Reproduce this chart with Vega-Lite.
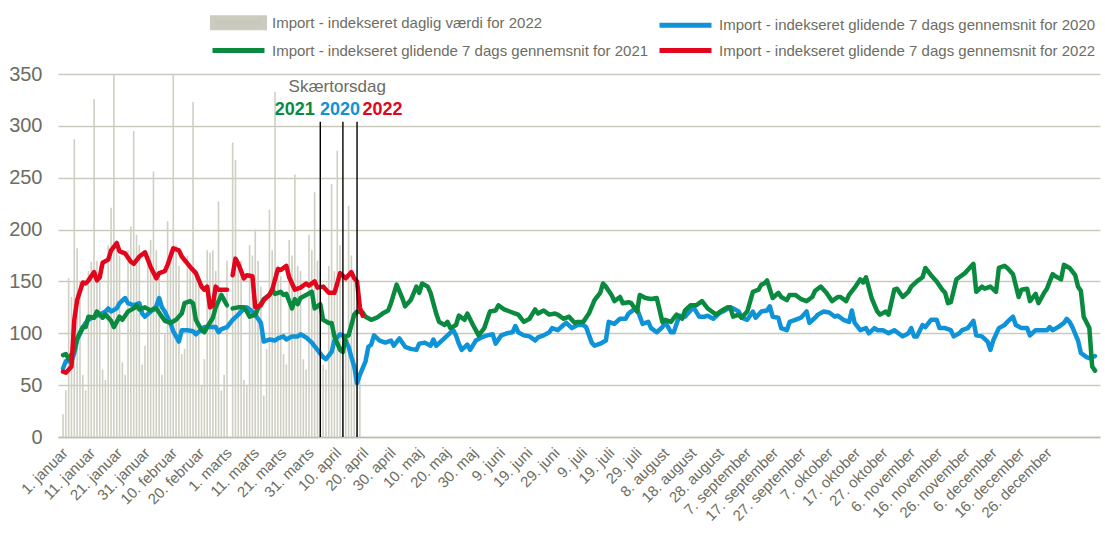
{
  "$schema": "https://vega.github.io/schema/vega-lite/v6.json",
  "width": 1042,
  "height": 363,
  "autosize": {"type": "none"},
  "padding": {"left": 58, "top": 74, "right": 5, "bottom": 108},
  "background": "white",
  "config": {
    "font": "Liberation Sans",
    "view": {"stroke": null},
    "axis": {"labelFont": "Liberation Sans", "labelColor": "#6d6d5f"},
    "legend": {"labelFont": "Liberation Sans"}
  },
  "datasets": {
    "bars": [
      {"d":1,"v":22},{"d":2,"v":45},{"d":3,"v":153},{"d":4,"v":135},{"d":5,"v":287},{"d":6,"v":182},{"d":7,"v":150},
      {"d":8,"v":60},{"d":9,"v":45},{"d":10,"v":160},{"d":11,"v":169},{"d":12,"v":326},{"d":13,"v":170},{"d":14,"v":165},
      {"d":15,"v":65},{"d":16,"v":55},{"d":17,"v":185},{"d":18,"v":221},{"d":19,"v":350},{"d":20,"v":190},{"d":21,"v":175},
      {"d":22,"v":72},{"d":23,"v":60},{"d":24,"v":180},{"d":25,"v":203},{"d":26,"v":295},{"d":27,"v":195},{"d":28,"v":185},
      {"d":29,"v":70},{"d":30,"v":88},{"d":31,"v":175},{"d":32,"v":190},{"d":33,"v":256},{"d":34,"v":180},{"d":35,"v":160},
      {"d":36,"v":60},{"d":37,"v":100},{"d":38,"v":208},{"d":39,"v":180},{"d":40,"v":350},{"d":41,"v":185},{"d":42,"v":165},
      {"d":43,"v":80},{"d":44,"v":85},{"d":45,"v":175},{"d":46,"v":165},{"d":47,"v":323},{"d":48,"v":160},{"d":49,"v":150},
      {"d":50,"v":50},{"d":51,"v":75},{"d":52,"v":180},{"d":53,"v":178},{"d":54,"v":180},{"d":55,"v":160},{"d":56,"v":227},
      {"d":57,"v":45},{"d":58,"v":60},{"d":59,"v":170},
      {"d":61,"v":284},{"d":62,"v":267},{"d":63,"v":165},{"d":64,"v":170},{"d":65,"v":55},{"d":66,"v":50},{"d":67,"v":185},
      {"d":68,"v":175},{"d":69,"v":200},{"d":70,"v":170},{"d":71,"v":145},{"d":72,"v":40},{"d":73,"v":85},{"d":74,"v":219},
      {"d":75,"v":180},{"d":76,"v":333},{"d":77,"v":165},{"d":78,"v":155},{"d":79,"v":80},{"d":80,"v":70},{"d":81,"v":190},
      {"d":82,"v":175},{"d":83,"v":253},{"d":84,"v":165},{"d":85,"v":160},{"d":86,"v":75},{"d":87,"v":65},{"d":88,"v":195},
      {"d":89,"v":180},{"d":90,"v":236},{"d":91,"v":170},{"d":92,"v":160},{"d":93,"v":70},{"d":94,"v":65},{"d":95,"v":165},
      {"d":96,"v":244},{"d":97,"v":160},{"d":98,"v":276},{"d":99,"v":185},{"d":100,"v":55},{"d":101,"v":85},{"d":102,"v":223},
      {"d":103,"v":175},{"d":104,"v":150},{"d":105,"v":60},{"d":106,"v":55}
    ],
    "lines": [
      {"s":"2020","g":1,"d":1,"v":66},{"s":"2020","g":1,"d":2,"v":73},{"s":"2020","g":1,"d":4,"v":73},{"s":"2020","g":1,"d":5,"v":81},{"s":"2020","g":1,"d":6,"v":94},{"s":"2020","g":1,"d":8,"v":105},{"s":"2020","g":1,"d":9,"v":110},{"s":"2020","g":1,"d":10,"v":113},{"s":"2020","g":1,"d":12,"v":116},{"s":"2020","g":1,"d":14,"v":118},{"s":"2020","g":1,"d":16,"v":121},{"s":"2020","g":1,"d":17,"v":124},{"s":"2020","g":1,"d":18,"v":121},{"s":"2020","g":1,"d":20,"v":124},{"s":"2020","g":1,"d":21,"v":129},{"s":"2020","g":1,"d":23,"v":134},{"s":"2020","g":1,"d":24,"v":129},{"s":"2020","g":1,"d":26,"v":127},{"s":"2020","g":1,"d":28,"v":129},{"s":"2020","g":1,"d":29,"v":119},{"s":"2020","g":1,"d":30,"v":116},{"s":"2020","g":1,"d":32,"v":121},{"s":"2020","g":1,"d":34,"v":126},{"s":"2020","g":1,"d":35,"v":134},{"s":"2020","g":1,"d":36,"v":125},{"s":"2020","g":1,"d":37,"v":121},{"s":"2020","g":1,"d":39,"v":110},{"s":"2020","g":1,"d":40,"v":102},{"s":"2020","g":1,"d":42,"v":92},{"s":"2020","g":1,"d":43,"v":103},{"s":"2020","g":1,"d":45,"v":103},{"s":"2020","g":1,"d":47,"v":102},{"s":"2020","g":1,"d":48,"v":99},{"s":"2020","g":1,"d":50,"v":104},{"s":"2020","g":1,"d":51,"v":106},{"s":"2020","g":1,"d":53,"v":106},{"s":"2020","g":1,"d":55,"v":106},{"s":"2020","g":1,"d":56,"v":101},{"s":"2020","g":1,"d":57,"v":104},{"s":"2020","g":1,"d":59,"v":106},{"s":"2020","g":1,"d":61,"v":113},{"s":"2020","g":1,"d":63,"v":118},{"s":"2020","g":1,"d":65,"v":124},{"s":"2020","g":1,"d":66,"v":125},{"s":"2020","g":1,"d":68,"v":121},{"s":"2020","g":1,"d":70,"v":114},{"s":"2020","g":1,"d":71,"v":110},{"s":"2020","g":1,"d":72,"v":92},{"s":"2020","g":1,"d":74,"v":94},{"s":"2020","g":1,"d":76,"v":93},{"s":"2020","g":1,"d":77,"v":95},{"s":"2020","g":1,"d":79,"v":97},{"s":"2020","g":1,"d":80,"v":94},{"s":"2020","g":1,"d":82,"v":97},{"s":"2020","g":1,"d":84,"v":97},{"s":"2020","g":1,"d":85,"v":99},{"s":"2020","g":1,"d":87,"v":96},{"s":"2020","g":1,"d":89,"v":91},{"s":"2020","g":1,"d":91,"v":84},{"s":"2020","g":1,"d":93,"v":77},{"s":"2020","g":1,"d":94,"v":75},{"s":"2020","g":1,"d":96,"v":82},{"s":"2020","g":1,"d":97,"v":93},{"s":"2020","g":1,"d":99,"v":99},{"s":"2020","g":1,"d":100,"v":98},{"s":"2020","g":1,"d":102,"v":87},{"s":"2020","g":1,"d":103,"v":77},{"s":"2020","g":1,"d":104,"v":68},{"s":"2020","g":1,"d":105,"v":52},{"s":"2020","g":1,"d":106,"v":60},{"s":"2020","g":1,"d":108,"v":73},{"s":"2020","g":1,"d":109,"v":87},{"s":"2020","g":1,"d":110,"v":89},{"s":"2020","g":1,"d":111,"v":98},{"s":"2020","g":1,"d":113,"v":93},{"s":"2020","g":1,"d":115,"v":91},{"s":"2020","g":1,"d":117,"v":93},{"s":"2020","g":1,"d":118,"v":88},{"s":"2020","g":1,"d":120,"v":95},{"s":"2020","g":1,"d":122,"v":87},{"s":"2020","g":1,"d":124,"v":85},{"s":"2020","g":1,"d":126,"v":84},{"s":"2020","g":1,"d":127,"v":90},{"s":"2020","g":1,"d":129,"v":91},{"s":"2020","g":1,"d":131,"v":88},{"s":"2020","g":1,"d":132,"v":94},{"s":"2020","g":1,"d":133,"v":88},{"s":"2020","g":1,"d":135,"v":93},{"s":"2020","g":1,"d":137,"v":98},{"s":"2020","g":1,"d":139,"v":103},{"s":"2020","g":1,"d":140,"v":98},{"s":"2020","g":1,"d":141,"v":90},{"s":"2020","g":1,"d":142,"v":84},{"s":"2020","g":1,"d":144,"v":89},{"s":"2020","g":1,"d":145,"v":84},{"s":"2020","g":1,"d":147,"v":93},{"s":"2020","g":1,"d":149,"v":96},{"s":"2020","g":1,"d":151,"v":98},{"s":"2020","g":1,"d":153,"v":99},{"s":"2020","g":1,"d":154,"v":90},{"s":"2020","g":1,"d":156,"v":98},{"s":"2020","g":1,"d":158,"v":100},{"s":"2020","g":1,"d":160,"v":101},{"s":"2020","g":1,"d":161,"v":107},{"s":"2020","g":1,"d":162,"v":101},{"s":"2020","g":1,"d":164,"v":98},{"s":"2020","g":1,"d":166,"v":97},{"s":"2020","g":1,"d":168,"v":93},{"s":"2020","g":1,"d":169,"v":96},{"s":"2020","g":1,"d":171,"v":98},{"s":"2020","g":1,"d":173,"v":101},{"s":"2020","g":1,"d":174,"v":105},{"s":"2020","g":1,"d":176,"v":103},{"s":"2020","g":1,"d":178,"v":108},{"s":"2020","g":1,"d":179,"v":110},{"s":"2020","g":1,"d":181,"v":105},{"s":"2020","g":1,"d":183,"v":108},{"s":"2020","g":1,"d":185,"v":108},{"s":"2020","g":1,"d":186,"v":106},{"s":"2020","g":1,"d":188,"v":91},{"s":"2020","g":1,"d":189,"v":88},{"s":"2020","g":1,"d":191,"v":90},{"s":"2020","g":1,"d":193,"v":93},{"s":"2020","g":1,"d":194,"v":111},{"s":"2020","g":1,"d":196,"v":109},{"s":"2020","g":1,"d":198,"v":114},{"s":"2020","g":1,"d":200,"v":114},{"s":"2020","g":1,"d":201,"v":119},{"s":"2020","g":1,"d":203,"v":123},{"s":"2020","g":1,"d":204,"v":124},{"s":"2020","g":1,"d":206,"v":109},{"s":"2020","g":1,"d":208,"v":111},{"s":"2020","g":1,"d":209,"v":105},{"s":"2020","g":1,"d":211,"v":101},{"s":"2020","g":1,"d":213,"v":106},{"s":"2020","g":1,"d":214,"v":111},{"s":"2020","g":1,"d":216,"v":101},{"s":"2020","g":1,"d":217,"v":101},{"s":"2020","g":1,"d":219,"v":117},{"s":"2020","g":1,"d":221,"v":116},{"s":"2020","g":1,"d":222,"v":119},{"s":"2020","g":1,"d":224,"v":125},{"s":"2020","g":1,"d":226,"v":116},{"s":"2020","g":1,"d":228,"v":116},{"s":"2020","g":1,"d":229,"v":117},{"s":"2020","g":1,"d":231,"v":114},{"s":"2020","g":1,"d":233,"v":119},{"s":"2020","g":1,"d":235,"v":122},{"s":"2020","g":1,"d":237,"v":125},{"s":"2020","g":1,"d":238,"v":124},{"s":"2020","g":1,"d":240,"v":121},{"s":"2020","g":1,"d":241,"v":115},{"s":"2020","g":1,"d":243,"v":113},{"s":"2020","g":1,"d":245,"v":121},{"s":"2020","g":1,"d":246,"v":115},{"s":"2020","g":1,"d":248,"v":121},{"s":"2020","g":1,"d":250,"v":122},{"s":"2020","g":1,"d":251,"v":126},{"s":"2020","g":1,"d":252,"v":116},{"s":"2020","g":1,"d":254,"v":115},{"s":"2020","g":1,"d":255,"v":105},{"s":"2020","g":1,"d":257,"v":103},{"s":"2020","g":1,"d":258,"v":111},{"s":"2020","g":1,"d":260,"v":113},{"s":"2020","g":1,"d":262,"v":115},{"s":"2020","g":1,"d":264,"v":121},{"s":"2020","g":1,"d":265,"v":110},{"s":"2020","g":1,"d":267,"v":115},{"s":"2020","g":1,"d":268,"v":118},{"s":"2020","g":1,"d":270,"v":121},{"s":"2020","g":1,"d":272,"v":120},{"s":"2020","g":1,"d":274,"v":116},{"s":"2020","g":1,"d":275,"v":117},{"s":"2020","g":1,"d":277,"v":113},{"s":"2020","g":1,"d":279,"v":111},{"s":"2020","g":1,"d":280,"v":122},{"s":"2020","g":1,"d":281,"v":110},{"s":"2020","g":1,"d":283,"v":103},{"s":"2020","g":1,"d":285,"v":105},{"s":"2020","g":1,"d":286,"v":100},{"s":"2020","g":1,"d":288,"v":105},{"s":"2020","g":1,"d":289,"v":103},{"s":"2020","g":1,"d":291,"v":103},{"s":"2020","g":1,"d":293,"v":100},{"s":"2020","g":1,"d":295,"v":103},{"s":"2020","g":1,"d":296,"v":101},{"s":"2020","g":1,"d":298,"v":97},{"s":"2020","g":1,"d":300,"v":100},{"s":"2020","g":1,"d":301,"v":105},{"s":"2020","g":1,"d":302,"v":97},{"s":"2020","g":1,"d":303,"v":97},{"s":"2020","g":1,"d":305,"v":108},{"s":"2020","g":1,"d":306,"v":106},{"s":"2020","g":1,"d":308,"v":113},{"s":"2020","g":1,"d":310,"v":113},{"s":"2020","g":1,"d":311,"v":105},{"s":"2020","g":1,"d":313,"v":105},{"s":"2020","g":1,"d":315,"v":103},{"s":"2020","g":1,"d":316,"v":97},{"s":"2020","g":1,"d":318,"v":100},{"s":"2020","g":1,"d":319,"v":103},{"s":"2020","g":1,"d":321,"v":105},{"s":"2020","g":1,"d":323,"v":112},{"s":"2020","g":1,"d":324,"v":98},{"s":"2020","g":1,"d":326,"v":97},{"s":"2020","g":1,"d":328,"v":92},{"s":"2020","g":1,"d":329,"v":84},{"s":"2020","g":1,"d":330,"v":93},{"s":"2020","g":1,"d":332,"v":105},{"s":"2020","g":1,"d":334,"v":108},{"s":"2020","g":1,"d":335,"v":111},{"s":"2020","g":1,"d":337,"v":116},{"s":"2020","g":1,"d":338,"v":108},{"s":"2020","g":1,"d":340,"v":105},{"s":"2020","g":1,"d":342,"v":105},{"s":"2020","g":1,"d":343,"v":98},{"s":"2020","g":1,"d":345,"v":103},{"s":"2020","g":1,"d":347,"v":103},{"s":"2020","g":1,"d":349,"v":103},{"s":"2020","g":1,"d":350,"v":106},{"s":"2020","g":1,"d":351,"v":103},{"s":"2020","g":1,"d":353,"v":106},{"s":"2020","g":1,"d":355,"v":110},{"s":"2020","g":1,"d":356,"v":114},{"s":"2020","g":1,"d":357,"v":111},{"s":"2020","g":1,"d":358,"v":106},{"s":"2020","g":1,"d":360,"v":93},{"s":"2020","g":1,"d":361,"v":81},{"s":"2020","g":1,"d":363,"v":77},{"s":"2020","g":1,"d":364,"v":76},{"s":"2020","g":1,"d":366,"v":78},
      {"s":"2021","g":1,"d":1,"v":79},{"s":"2021","g":1,"d":2,"v":80},{"s":"2021","g":1,"d":3,"v":75},{"s":"2021","g":1,"d":5,"v":84},{"s":"2021","g":1,"d":6,"v":95},{"s":"2021","g":1,"d":8,"v":106},{"s":"2021","g":1,"d":9,"v":106},{"s":"2021","g":1,"d":10,"v":116},{"s":"2021","g":1,"d":12,"v":115},{"s":"2021","g":1,"d":13,"v":121},{"s":"2021","g":1,"d":15,"v":115},{"s":"2021","g":1,"d":16,"v":118},{"s":"2021","g":1,"d":18,"v":112},{"s":"2021","g":1,"d":19,"v":106},{"s":"2021","g":1,"d":21,"v":116},{"s":"2021","g":1,"d":22,"v":113},{"s":"2021","g":1,"d":24,"v":121},{"s":"2021","g":1,"d":26,"v":124},{"s":"2021","g":1,"d":27,"v":127},{"s":"2021","g":1,"d":28,"v":123},{"s":"2021","g":1,"d":30,"v":125},{"s":"2021","g":1,"d":32,"v":122},{"s":"2021","g":1,"d":34,"v":124},{"s":"2021","g":1,"d":36,"v":116},{"s":"2021","g":1,"d":37,"v":112},{"s":"2021","g":1,"d":39,"v":110},{"s":"2021","g":1,"d":41,"v":113},{"s":"2021","g":1,"d":43,"v":119},{"s":"2021","g":1,"d":44,"v":129},{"s":"2021","g":1,"d":46,"v":131},{"s":"2021","g":1,"d":47,"v":129},{"s":"2021","g":1,"d":48,"v":113},{"s":"2021","g":1,"d":50,"v":103},{"s":"2021","g":1,"d":51,"v":101},{"s":"2021","g":1,"d":52,"v":106},{"s":"2021","g":1,"d":54,"v":115},{"s":"2021","g":1,"d":55,"v":125},{"s":"2021","g":1,"d":57,"v":137},{"s":"2021","g":1,"d":58,"v":132},{"s":"2021","g":1,"d":59,"v":127},
      {"s":"2021","g":2,"d":61,"v":124},{"s":"2021","g":2,"d":63,"v":125},{"s":"2021","g":2,"d":65,"v":125},{"s":"2021","g":2,"d":66,"v":121},{"s":"2021","g":2,"d":67,"v":116},{"s":"2021","g":2,"d":69,"v":118},{"s":"2021","g":2,"d":70,"v":124},{"s":"2021","g":2,"d":72,"v":133},{"s":"2021","g":2,"d":74,"v":137},{"s":"2021","g":2,"d":75,"v":142},{"s":"2021","g":2,"d":76,"v":138},{"s":"2021","g":2,"d":78,"v":140},{"s":"2021","g":2,"d":79,"v":137},{"s":"2021","g":2,"d":80,"v":138},{"s":"2021","g":2,"d":82,"v":124},{"s":"2021","g":2,"d":83,"v":133},{"s":"2021","g":2,"d":84,"v":128},{"s":"2021","g":2,"d":85,"v":134},{"s":"2021","g":2,"d":87,"v":137},{"s":"2021","g":2,"d":89,"v":140},{"s":"2021","g":2,"d":90,"v":124},{"s":"2021","g":2,"d":92,"v":128},{"s":"2021","g":2,"d":93,"v":113},{"s":"2021","g":2,"d":95,"v":110},{"s":"2021","g":2,"d":96,"v":110},{"s":"2021","g":2,"d":97,"v":97},{"s":"2021","g":2,"d":99,"v":84},{"s":"2021","g":2,"d":100,"v":82},{"s":"2021","g":2,"d":101,"v":97},{"s":"2021","g":2,"d":102,"v":98},{"s":"2021","g":2,"d":104,"v":118},{"s":"2021","g":2,"d":105,"v":121},{"s":"2021","g":2,"d":107,"v":120},{"s":"2021","g":2,"d":108,"v":116},{"s":"2021","g":2,"d":110,"v":113},{"s":"2021","g":2,"d":112,"v":115},{"s":"2021","g":2,"d":114,"v":119},{"s":"2021","g":2,"d":116,"v":122},{"s":"2021","g":2,"d":117,"v":129},{"s":"2021","g":2,"d":119,"v":147},{"s":"2021","g":2,"d":121,"v":134},{"s":"2021","g":2,"d":122,"v":126},{"s":"2021","g":2,"d":124,"v":132},{"s":"2021","g":2,"d":126,"v":145},{"s":"2021","g":2,"d":127,"v":139},{"s":"2021","g":2,"d":128,"v":148},{"s":"2021","g":2,"d":130,"v":145},{"s":"2021","g":2,"d":131,"v":139},{"s":"2021","g":2,"d":133,"v":119},{"s":"2021","g":2,"d":134,"v":111},{"s":"2021","g":2,"d":136,"v":108},{"s":"2021","g":2,"d":137,"v":111},{"s":"2021","g":2,"d":138,"v":105},{"s":"2021","g":2,"d":140,"v":108},{"s":"2021","g":2,"d":141,"v":117},{"s":"2021","g":2,"d":143,"v":113},{"s":"2021","g":2,"d":144,"v":119},{"s":"2021","g":2,"d":146,"v":108},{"s":"2021","g":2,"d":147,"v":103},{"s":"2021","g":2,"d":148,"v":98},{"s":"2021","g":2,"d":150,"v":105},{"s":"2021","g":2,"d":152,"v":121},{"s":"2021","g":2,"d":154,"v":122},{"s":"2021","g":2,"d":155,"v":127},{"s":"2021","g":2,"d":157,"v":123},{"s":"2021","g":2,"d":159,"v":121},{"s":"2021","g":2,"d":161,"v":119},{"s":"2021","g":2,"d":162,"v":118},{"s":"2021","g":2,"d":164,"v":111},{"s":"2021","g":2,"d":166,"v":114},{"s":"2021","g":2,"d":168,"v":123},{"s":"2021","g":2,"d":169,"v":119},{"s":"2021","g":2,"d":171,"v":122},{"s":"2021","g":2,"d":173,"v":118},{"s":"2021","g":2,"d":175,"v":119},{"s":"2021","g":2,"d":176,"v":118},{"s":"2021","g":2,"d":178,"v":114},{"s":"2021","g":2,"d":180,"v":116},{"s":"2021","g":2,"d":182,"v":110},{"s":"2021","g":2,"d":183,"v":111},{"s":"2021","g":2,"d":185,"v":111},{"s":"2021","g":2,"d":187,"v":119},{"s":"2021","g":2,"d":189,"v":132},{"s":"2021","g":2,"d":191,"v":139},{"s":"2021","g":2,"d":192,"v":148},{"s":"2021","g":2,"d":193,"v":145},{"s":"2021","g":2,"d":195,"v":137},{"s":"2021","g":2,"d":196,"v":131},{"s":"2021","g":2,"d":198,"v":135},{"s":"2021","g":2,"d":199,"v":129},{"s":"2021","g":2,"d":201,"v":130},{"s":"2021","g":2,"d":202,"v":129},{"s":"2021","g":2,"d":204,"v":121},{"s":"2021","g":2,"d":205,"v":137},{"s":"2021","g":2,"d":207,"v":134},{"s":"2021","g":2,"d":209,"v":133},{"s":"2021","g":2,"d":211,"v":134},{"s":"2021","g":2,"d":213,"v":111},{"s":"2021","g":2,"d":214,"v":113},{"s":"2021","g":2,"d":216,"v":111},{"s":"2021","g":2,"d":218,"v":118},{"s":"2021","g":2,"d":220,"v":114},{"s":"2021","g":2,"d":221,"v":122},{"s":"2021","g":2,"d":223,"v":127},{"s":"2021","g":2,"d":225,"v":127},{"s":"2021","g":2,"d":227,"v":131},{"s":"2021","g":2,"d":229,"v":124},{"s":"2021","g":2,"d":230,"v":122},{"s":"2021","g":2,"d":232,"v":118},{"s":"2021","g":2,"d":234,"v":122},{"s":"2021","g":2,"d":236,"v":125},{"s":"2021","g":2,"d":237,"v":125},{"s":"2021","g":2,"d":238,"v":116},{"s":"2021","g":2,"d":240,"v":118},{"s":"2021","g":2,"d":241,"v":115},{"s":"2021","g":2,"d":243,"v":121},{"s":"2021","g":2,"d":245,"v":140},{"s":"2021","g":2,"d":247,"v":142},{"s":"2021","g":2,"d":248,"v":147},{"s":"2021","g":2,"d":249,"v":148},{"s":"2021","g":2,"d":250,"v":151},{"s":"2021","g":2,"d":252,"v":134},{"s":"2021","g":2,"d":254,"v":139},{"s":"2021","g":2,"d":255,"v":135},{"s":"2021","g":2,"d":257,"v":132},{"s":"2021","g":2,"d":258,"v":137},{"s":"2021","g":2,"d":260,"v":137},{"s":"2021","g":2,"d":262,"v":133},{"s":"2021","g":2,"d":264,"v":131},{"s":"2021","g":2,"d":266,"v":135},{"s":"2021","g":2,"d":267,"v":141},{"s":"2021","g":2,"d":269,"v":145},{"s":"2021","g":2,"d":271,"v":139},{"s":"2021","g":2,"d":273,"v":131},{"s":"2021","g":2,"d":275,"v":135},{"s":"2021","g":2,"d":276,"v":135},{"s":"2021","g":2,"d":278,"v":131},{"s":"2021","g":2,"d":279,"v":137},{"s":"2021","g":2,"d":281,"v":144},{"s":"2021","g":2,"d":283,"v":152},{"s":"2021","g":2,"d":284,"v":149},{"s":"2021","g":2,"d":285,"v":154},{"s":"2021","g":2,"d":287,"v":134},{"s":"2021","g":2,"d":289,"v":121},{"s":"2021","g":2,"d":290,"v":118},{"s":"2021","g":2,"d":292,"v":121},{"s":"2021","g":2,"d":293,"v":118},{"s":"2021","g":2,"d":295,"v":142},{"s":"2021","g":2,"d":296,"v":143},{"s":"2021","g":2,"d":298,"v":135},{"s":"2021","g":2,"d":300,"v":140},{"s":"2021","g":2,"d":301,"v":145},{"s":"2021","g":2,"d":303,"v":150},{"s":"2021","g":2,"d":305,"v":154},{"s":"2021","g":2,"d":306,"v":163},{"s":"2021","g":2,"d":308,"v":156},{"s":"2021","g":2,"d":310,"v":150},{"s":"2021","g":2,"d":312,"v":142},{"s":"2021","g":2,"d":313,"v":139},{"s":"2021","g":2,"d":314,"v":129},{"s":"2021","g":2,"d":315,"v":130},{"s":"2021","g":2,"d":317,"v":152},{"s":"2021","g":2,"d":318,"v":154},{"s":"2021","g":2,"d":320,"v":158},{"s":"2021","g":2,"d":321,"v":161},{"s":"2021","g":2,"d":323,"v":167},{"s":"2021","g":2,"d":324,"v":140},{"s":"2021","g":2,"d":326,"v":145},{"s":"2021","g":2,"d":327,"v":143},{"s":"2021","g":2,"d":329,"v":145},{"s":"2021","g":2,"d":331,"v":140},{"s":"2021","g":2,"d":332,"v":163},{"s":"2021","g":2,"d":334,"v":165},{"s":"2021","g":2,"d":335,"v":163},{"s":"2021","g":2,"d":337,"v":157},{"s":"2021","g":2,"d":339,"v":135},{"s":"2021","g":2,"d":340,"v":142},{"s":"2021","g":2,"d":342,"v":143},{"s":"2021","g":2,"d":343,"v":131},{"s":"2021","g":2,"d":345,"v":138},{"s":"2021","g":2,"d":346,"v":129},{"s":"2021","g":2,"d":348,"v":139},{"s":"2021","g":2,"d":349,"v":143},{"s":"2021","g":2,"d":351,"v":157},{"s":"2021","g":2,"d":352,"v":155},{"s":"2021","g":2,"d":354,"v":152},{"s":"2021","g":2,"d":355,"v":166},{"s":"2021","g":2,"d":357,"v":163},{"s":"2021","g":2,"d":359,"v":156},{"s":"2021","g":2,"d":360,"v":145},{"s":"2021","g":2,"d":361,"v":141},{"s":"2021","g":2,"d":362,"v":116},{"s":"2021","g":2,"d":364,"v":105},{"s":"2021","g":2,"d":365,"v":68},{"s":"2021","g":2,"d":366,"v":64},
      {"s":"2022","g":1,"d":1,"v":63},{"s":"2022","g":1,"d":2,"v":62},{"s":"2022","g":1,"d":4,"v":68},{"s":"2022","g":1,"d":5,"v":113},{"s":"2022","g":1,"d":6,"v":132},{"s":"2022","g":1,"d":8,"v":149},{"s":"2022","g":1,"d":9,"v":148},{"s":"2022","g":1,"d":10,"v":151},{"s":"2022","g":1,"d":12,"v":159},{"s":"2022","g":1,"d":13,"v":151},{"s":"2022","g":1,"d":14,"v":154},{"s":"2022","g":1,"d":15,"v":168},{"s":"2022","g":1,"d":17,"v":171},{"s":"2022","g":1,"d":18,"v":180},{"s":"2022","g":1,"d":20,"v":187},{"s":"2022","g":1,"d":21,"v":179},{"s":"2022","g":1,"d":23,"v":177},{"s":"2022","g":1,"d":25,"v":169},{"s":"2022","g":1,"d":26,"v":167},{"s":"2022","g":1,"d":28,"v":174},{"s":"2022","g":1,"d":30,"v":178},{"s":"2022","g":1,"d":32,"v":164},{"s":"2022","g":1,"d":34,"v":153},{"s":"2022","g":1,"d":35,"v":158},{"s":"2022","g":1,"d":37,"v":160},{"s":"2022","g":1,"d":38,"v":166},{"s":"2022","g":1,"d":40,"v":182},{"s":"2022","g":1,"d":42,"v":180},{"s":"2022","g":1,"d":43,"v":174},{"s":"2022","g":1,"d":46,"v":164},{"s":"2022","g":1,"d":48,"v":158},{"s":"2022","g":1,"d":50,"v":145},{"s":"2022","g":1,"d":51,"v":142},{"s":"2022","g":1,"d":52,"v":145},{"s":"2022","g":1,"d":53,"v":125},{"s":"2022","g":1,"d":54,"v":127},{"s":"2022","g":1,"d":55,"v":145},{"s":"2022","g":1,"d":56,"v":142},{"s":"2022","g":1,"d":58,"v":142},{"s":"2022","g":1,"d":59,"v":142},
      {"s":"2022","g":2,"d":61,"v":156},{"s":"2022","g":2,"d":62,"v":172},{"s":"2022","g":2,"d":63,"v":167},{"s":"2022","g":2,"d":65,"v":153},{"s":"2022","g":2,"d":66,"v":156},{"s":"2022","g":2,"d":68,"v":155},{"s":"2022","g":2,"d":69,"v":125},{"s":"2022","g":2,"d":71,"v":127},{"s":"2022","g":2,"d":72,"v":132},{"s":"2022","g":2,"d":74,"v":137},{"s":"2022","g":2,"d":75,"v":142},{"s":"2022","g":2,"d":77,"v":162},{"s":"2022","g":2,"d":78,"v":161},{"s":"2022","g":2,"d":80,"v":165},{"s":"2022","g":2,"d":81,"v":154},{"s":"2022","g":2,"d":83,"v":142},{"s":"2022","g":2,"d":85,"v":144},{"s":"2022","g":2,"d":87,"v":148},{"s":"2022","g":2,"d":88,"v":146},{"s":"2022","g":2,"d":90,"v":150},{"s":"2022","g":2,"d":91,"v":144},{"s":"2022","g":2,"d":93,"v":145},{"s":"2022","g":2,"d":95,"v":139},{"s":"2022","g":2,"d":97,"v":139},{"s":"2022","g":2,"d":98,"v":148},{"s":"2022","g":2,"d":99,"v":158},{"s":"2022","g":2,"d":101,"v":153},{"s":"2022","g":2,"d":103,"v":159},{"s":"2022","g":2,"d":104,"v":153},{"s":"2022","g":2,"d":105,"v":150},{"s":"2022","g":2,"d":106,"v":125},{"s":"2022","g":2,"d":107,"v":117}
    ],
    "rules": [{"d":92,"b":0,"top":304},{"d":100,"b":0,"top":304},{"d":105,"b":0,"top":304}],
    "years": [
      {"d":83,"v":315,"t":"2021","c":"#0a8a3e"},
      {"d":99,"v":315,"t":"2020","c":"#0f93d8"},
      {"d":114,"v":315,"t":"2022","c":"#e3051b"}
    ],
    "title": [{"d":98,"v":337,"t":"Skærtorsdag"}]
  },
  "encoding": {
    "x": {
      "field": "d", "type": "quantitative",
      "scale": {"domain": [1, 366], "nice": false, "zero": false},
      "axis": {
        "title": null, "grid": false, "ticks": false,
        "domainColor": "#bdbdb0", "domainWidth": 1.5,
        "values": [-0.15,9.52,19.18,28.85,38.52,48.18,57.85,67.52,77.18,86.85,96.52,106.18,115.85,125.52,135.18,144.85,154.52,164.18,173.85,183.52,193.18,202.85,212.52,222.18,231.85,241.52,251.18,260.85,270.52,280.18,289.85,299.52,309.18,318.85,328.52,338.18,347.85],
        "labelExpr": "['1. januar','11. januar','21. januar','31. januar','10. februar','20. februar','1. marts','11. marts','21. marts','31. marts','10. april','20. april','30. april','10. maj','20. maj','30. maj','9. juni','19. juni','29. juni','9. juli','19. juli','29. juli','8. august','18. august','28. august','7. september','17. september','27. september','7. oktober','17. oktober','27. oktober','6. november','16. november','26. november','6. december','16. december','26. december'][round((datum.value+0.15)/9.667)]",
        "labelAngle": -45, "labelFontSize": 15, "labelPadding": 8, "labelOverlap": false, "labelBound": false, "labelFlush": false
      }
    }
  },
  "layer": [
    {
      "data": {"name": "bars"},
      "mark": {"type": "bar", "size": 1.6, "fill": "#cfcfc4"},
      "encoding": {
        "y": {
          "field": "v", "type": "quantitative",
          "scale": {"domain": [0, 350], "nice": false},
          "axis": {
            "title": null, "values": [0,50,100,150,200,250,300,350],
            "domain": false, "ticks": false, "gridColor": "#c9c9bc", "gridWidth": 1.5,
            "labelFontSize": 20, "labelPadding": 16
          }
        }
      }
    },
    {
      "data": {"name": "lines"},
      "mark": {"type": "line", "strokeWidth": 4.5, "strokeJoin": "round", "strokeCap": "round"},
      "encoding": {
        "y": {"field": "v", "type": "quantitative"},
        "color": {
          "field": "s", "type": "nominal",
          "scale": {"domain": ["daglig", "2020", "2021", "2022"], "range": ["#cbcbbf", "#0f93d8", "#0a8a3e", "#e3051b"]},
          "legend": {
            "title": null, "orient": "none", "legendX": 168, "legendY": -64, "padding": 0,
            "direction": "horizontal", "columns": 2, "columnPadding": 0, "rowPadding": 0,
            "labelFontSize": 15, "labelColor": "#6d6d5f", "labelLimit": 600, "labelOffset": 21,
            "symbolSize": 400, "symbolStrokeWidth": 5,
            "labelExpr": "datum.label == 'daglig' ? 'Import - indekseret daglig værdi for 2022' : 'Import - indekseret glidende 7 dags gennemsnit for ' + datum.label",
            "encode": {
              "symbols": {
                "update": {
                  "shape": {"signal": "datum.value == 'daglig' ? 'M-2.6,-0.5H2.6V0.5H-2.6Z' : 'M-2.6,0H2.6'"},
                  "fill": {"signal": "datum.value == 'daglig' ? '#c8c8bc' : 'transparent'"},
                  "stroke": {"signal": "datum.value == 'daglig' ? 'transparent' : datum.value == '2020' ? '#0f93d8' : datum.value == '2021' ? '#0a8a3e' : '#e3051b'"},
                  "strokeWidth": {"value": 5},
                  "opacity": {"value": 1}
                }
              }
            }
          }
        },
        "detail": {"field": "g", "type": "nominal"}
      }
    },
    {
      "data": {"name": "rules"},
      "mark": {"type": "rule", "color": "black", "strokeWidth": 1.4},
      "encoding": {
        "y": {"field": "b", "type": "quantitative"},
        "y2": {"field": "top"}
      }
    },
    {
      "data": {"name": "title"},
      "mark": {"type": "text", "align": "center", "baseline": "middle", "fontSize": 17, "color": "#6d6d5f"},
      "encoding": {
        "y": {"field": "v", "type": "quantitative"},
        "text": {"field": "t", "type": "nominal"}
      }
    },
    {
      "data": {"name": "years"},
      "mark": {"type": "text", "align": "center", "baseline": "middle", "fontSize": 18, "fontWeight": "bold"},
      "encoding": {
        "y": {"field": "v", "type": "quantitative"},
        "text": {"field": "t", "type": "nominal"},
        "color": {"field": "c", "type": "nominal", "scale": null}
      }
    }
  ]
}
